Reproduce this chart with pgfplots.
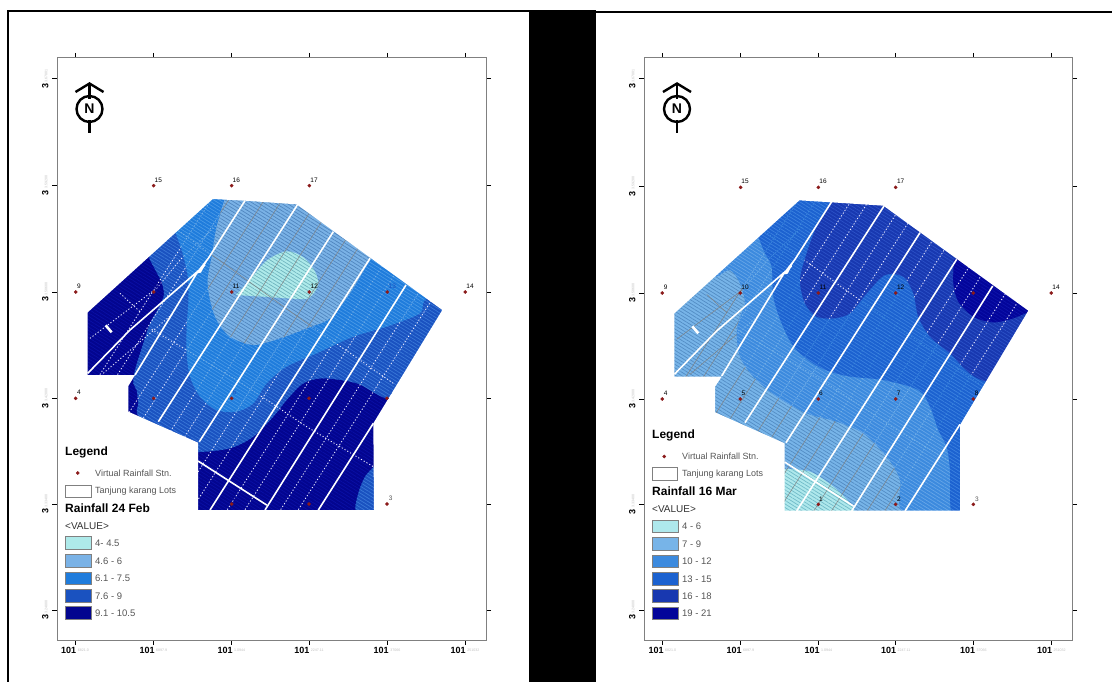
\documentclass[border=0pt]{standalone}
\usepackage{fontspec}
\setmainfont{Liberation Sans}
\usepackage{pgfplots}
\usepackage{pgfplotstable}
\pgfplotsset{compat=1.18}
\usetikzlibrary{patterns.meta}

\definecolor{aA}{HTML}{AEEAEA}\definecolor{ahA}{HTML}{6FB4BE}
\definecolor{aB}{HTML}{7AB2E6}\definecolor{ahB}{HTML}{4F85BF}
\definecolor{aC}{HTML}{1F7CDC}\definecolor{ahC}{HTML}{4A9AE8}
\definecolor{aD}{HTML}{1A52C0}\definecolor{ahD}{HTML}{3A78D8}
\definecolor{aE}{HTML}{03058F}\definecolor{ahE}{HTML}{0A10A6}
\definecolor{bA}{HTML}{AEE8EC}\definecolor{bhA}{HTML}{70BAC8}
\definecolor{bB}{HTML}{77B4E8}\definecolor{bhB}{HTML}{528CC4}
\definecolor{bC}{HTML}{3C8ADE}\definecolor{bhC}{HTML}{66A6E8}
\definecolor{bD}{HTML}{1C62D0}\definecolor{bhD}{HTML}{3C82E0}
\definecolor{bE}{HTML}{1838B0}\definecolor{bhE}{HTML}{2C52C8}
\definecolor{bF}{HTML}{03059A}\definecolor{bhF}{HTML}{0E14AC}
\definecolor{stn}{HTML}{8B1A1A}
\definecolor{framegrey}{HTML}{808080}
\definecolor{txtgrey}{HTML}{555555}

\pgfplotstableread{
x y
532 60
-85 1030
nan nan
585 60
-32 1030
nan nan
692 60
75 1030
nan nan
745 60
128 1030
nan nan
852 60
235 1030
nan nan
905 60
288 1030
nan nan
1012 60
395 1030
nan nan
1065 60
448 1030
nan nan
1172 60
555 1030
nan nan
1225 60
608 1030
nan nan
1332 60
715 1030
nan nan
1385 60
768 1030
nan nan
335 478
590 630
800 770
1000 890
nan nan
415 182
770 438
1060 640
nan nan
150 505
350 355
420 270
530 165
nan nan
190 610
400 430
nan nan
240 370
300 425
}\lottab

\pgfplotstableread{
x y
615 92
505 265
470 310
285 615
nan nan
495 285
270 480
143 610
nan nan
772 105
355 755
nan nan
880 185
478 815
nan nan
990 265
510 1020
nan nan
1098 345
675 1020
nan nan
1000 760
835 1020
nan nan
474 873
680 1005
}\maintab

\newcommand{\reg}[3]{%
  \addplot[fill=#1,draw=none,smooth,tension=.5] coordinates {#3};
  \addplot[draw=none,smooth,tension=.5,pattern={Lines[angle=-32,distance=3pt,line width=.7pt]},pattern color=#2] coordinates {#3};
}
\newcommand{\lots}[3]{%
  \addplot[#1,unbounded coords=jump] table[x expr=\thisrow{x}+#2,y expr=\thisrow{y}+#3] {\lottab};
}
% region, then its lot lines clipped to the same region
\newcommand{\regl}[6]{%
  \reg{#1}{#2}{#3}
  \begin{scope}
  \clip plot[smooth,tension=.5] coordinates {#3};
  \lots{#4}{#5}{#6}
  \end{scope}
}
\newcommand{\mainlines}[2]{%
  \addplot[white,line width=1.6pt,unbounded coords=jump] table[x expr=\thisrow{x}+#1,y expr=\thisrow{y}+#2] {\maintab};
}
\tikzset{whitedot/.style={white!92!blue,line width=.85pt,dash pattern=on 1.2pt off 2pt},
  paledot/.style={color=#1,line width=.75pt,dash pattern=on 1.2pt off 1.8pt},
  greyline/.style={color=#1,line width=.45pt}}

\newcommand{\xl}[1]{\textbf{101}\,\raisebox{2.5pt}{\fontsize{3.6}{4}\selectfont\color{lightgray}#1}}
\newcommand{\yl}[1]{{\fontsize{9}{10}\selectfont\textbf{3}}\,\raisebox{1pt}{\fontsize{3.6}{4}\selectfont\color{lightgray}#1}}
\pgfplotsset{mapaxis/.style={
  scale only axis,anchor=south west,y dir=reverse,axis on top,
  axis line style={framegrey,line width=1pt},
  tick style={black,line width=1pt},
  major tick length=5pt,tick align=outside,tick pos=both,
  xticklabel pos=bottom,yticklabel pos=left,
  tick label style={font=\fontsize{9}{10}\selectfont},
  yticklabel style={rotate=90,anchor=south,xshift=0pt},
  xticklabel style={yshift=1pt},
  yticklabels={{\yl{3.67801}},{\yl{3.59200}},{\yl{3.50600}},{\yl{3.42000}},{\yl{3.33400}},{\yl{3.24800}}},
  xticklabels={{\xl{6821.0}},{\xl{6897.9}},{\xl{1.0944}},{\xl{2247.11}},{\xl{37066}},{\xl{251032}}},
}}
\newcommand{\stlabel}[4][black]{\node[font=\fontsize{6.5}{7}\selectfont,text=#1,inner sep=0pt] at (axis cs:#2,#3) {#4};}
\newcommand{\northarrow}[1]{%
  \addplot[black,line width=2.4pt] coordinates {(#1-14,92) (#1,83.5) (#1+14,92)};
  \addplot[black,line width=2.4pt] coordinates {(#1,84) (#1,99) };
  \addplot[black,line width=2.4pt] coordinates {(#1,120) (#1,133.5)};
  \node[draw=black,line width=2.4pt,circle,minimum size=26pt,inner sep=0pt,font=\bfseries\fontsize{14}{15}\selectfont] at (axis cs:#1,109) {N};
}
\newcommand{\sw}[6]{%
  \addplot[fill=#4,draw=framegrey,line width=.8pt] coordinates {(#1,#2) (#1+26,#2) (#1+26,#3) (#1,#3)} -- cycle;
  \node[anchor=west,inner sep=0pt,text=txtgrey,font=\fontsize{9.5}{11}\selectfont] at (axis cs:#1+30,#5) {#6};
}

\begin{document}
\begin{tikzpicture}[x=1pt,y=1pt]
\useasboundingbox (0,0) rectangle (1112pt,682pt);

% ---------- left map
\begin{axis}[mapaxis,at={(57pt,42pt)},width=429pt,height=582pt,
  xmin=51,xmax=1338,ymin=-336,ymax=1410,
  xtick={105,340,574,807,1041,1275},
  ytick={-273,47,366,685,1002,1320}]
\reg{aE}{ahE}{(60,40)(1320,40)(1320,1050)(60,1050)}
\reg{aD}{ahD}{(330,270)(300,150)(310,60)(700,45)(1310,45)(1310,620)(1090,690)(1030,682)(950,640)(850,625)(790,640)(740,690)(700,740)(640,800)(570,835)(474,846)(440,835)(300,742)(295,700)(290,660)(280,640)(285,600)(310,520)(330,460)(355,415)(372,375)(365,335)}
\reg{aD}{ahD}{(1002,890)(975,920)(955,970)(948,1025)(1000,1045)(1040,1000)(1040,900)}
\lots{whitedot}{0}{0}
\regl{aC}{ahC}{(405,185)(425,240)(440,300)(445,340)(445,400)(440,470)(440,550)(450,620)(480,680)(530,720)(590,725)(640,700)(680,640)(740,590)(830,550)(940,500)(1040,470)(1140,430)(1160,385)(1300,300)(1000,60)(500,45)(420,100)}{paledot={aB}}{0}{0}
\regl{aB}{ahB}{(555,85)(530,170)(515,260)(503,330)(510,390)(530,450)(570,500)(640,525)(720,505)(800,475)(870,445)(930,370)(975,295)(995,262)(1020,190)(800,60)(580,50)}{greyline={gray}}{0}{0}
\regl{aA}{ahA}{(588,375)(625,335)(680,272)(740,244)(790,262)(825,305)(834,345)(805,385)(745,385)(670,380)}{greyline={gray}}{0}{0}
\mainlines{0}{0}
\addplot[white,line width=2.6pt] coordinates {(197,466) (215,487)};
\addplot[fill=white,draw=none] coordinates {(505,265)(470,310)(483,308)};
\addplot[fill=white,draw=none] coordinates
 {(-100,-400)(1500,-400)(1500,1500)(-100,1500)(-100,427)(143,427)(143,615)(285,615)(265,648)(265,725)(474,818)(474,1020)(1002,1020)(1000,760)(1207,420)(770,103)(615,92)(518,87)(143,427)(-100,427)};
\addplot[only marks,mark=*,mark size=1.6pt,color=stn] coordinates
 {(341,47)(575,47)(808,47)(107,366)(341,366)(575,366)(808,366)(1042,366)(1276,366)(107,685)(341,685)(575,685)(807,685)(1041,685)(575,1002)(807,1002)(1041,1002)};
\stlabel{355}{30}{15}\stlabel{589}{30}{16}\stlabel{822}{30}{17}
\stlabel{117}{349}{9}\stlabel[aE]{355}{349}{10}\stlabel{588}{349}{11}\stlabel{823}{349}{12}\stlabel[aD]{1057}{349}{13}\stlabel{1290}{349}{14}
\stlabel{117}{667}{4}\stlabel[aD]{349}{667}{5}\stlabel[aD]{584}{667}{6}\stlabel[aE]{817}{667}{7}\stlabel[aD]{1051}{667}{8}
\stlabel[aE]{584}{985}{1}\stlabel[aE]{817}{985}{2}\stlabel[txtgrey]{1052}{985}{3}
\end{axis}

% ---------- right map
\begin{axis}[mapaxis,at={(644pt,42pt)},width=428pt,height=582pt,
  xmin=42,xmax=1326,ymin=-336,ymax=1410,
  xtick={97,331,565,797,1030,1264},
  ytick={-273,50,369,687,1003,1320}]
\reg{bB}{bhB}{(50,40)(1320,40)(1320,1050)(50,1050)}
\lots{greyline={gray}}{-10}{3}
\regl{bA}{bhA}{(464,897)(540,905)(610,950)(660,1000)(670,1030)(600,1045)(420,1045)(420,900)}{greyline={gray}}{-10}{3}
\regl{bC}{bhC}{(225,322)(260,320)(300,300)(330,340)(345,400)(330,440)(320,490)(330,560)(370,620)(440,680)(530,730)(620,755)(700,790)(770,860)(810,930)(822,1030)(1020,1045)(1310,1045)(1310,50)(500,45)(240,250)}{paledot={bB}}{-10}{3}
\regl{bD}{bhD}{(385,200)(405,250)(425,290)(430,380)(455,460)(495,535)(565,590)(650,618)(760,630)(865,660)(900,710)(925,780)(950,830)(960,900)(965,1030)(1020,1045)(1310,1045)(1310,50)(460,50)(380,170)}{paledot={bC}}{-10}{3}
\regl{bE}{bhE}{(605,90)(560,170)(530,250)(510,330)(525,400)(560,440)(610,445)(660,430)(710,370)(765,315)(820,320)(850,370)(865,440)(900,500)(960,550)(1060,632)(1310,650)(1310,50)(620,50)}{whitedot}{-10}{3}
\regl{bF}{bhF}{(972,270)(970,340)(985,395)(1030,440)(1090,457)(1150,445)(1200,425)(1300,400)(1250,250)(1050,230)}{whitedot}{-10}{3}
\mainlines{-10}{3}
\addplot[white,line width=2.6pt] coordinates {(187,469) (205,490)};
\addplot[fill=white,draw=none] coordinates {(495,268)(460,313)(473,311)};
\addplot[fill=white,draw=none] coordinates
 {(-100,-400)(1500,-400)(1500,1500)(-100,1500)(-100,430)(133,430)(133,620)(275,620)(255,650)(255,727)(464,820)(464,1022)(990,1022)(990,765)(1195,422)(760,107)(605,97)(508,91)(133,430)(-100,430)};
\addplot[only marks,mark=*,mark size=1.6pt,color=stn] coordinates
 {(332,52)(565,52)(797,52)(97,369)(331,369)(565,369)(797,369)(1030,369)(1264,369)(97,687)(331,687)(565,687)(797,687)(1030,687)(565,1003)(797,1003)(1030,1003)};
\stlabel{345}{34}{15}\stlabel{579}{34}{16}\stlabel{812}{34}{17}
\stlabel{107}{352}{9}\stlabel{345}{352}{10}\stlabel{579}{352}{11}\stlabel{812}{352}{12}\stlabel[aE]{1044}{352}{13}\stlabel{1278}{352}{14}
\stlabel{107}{669}{4}\stlabel{340}{669}{5}\stlabel{573}{669}{6}\stlabel{806}{669}{7}\stlabel{1040}{669}{8}
\stlabel{573}{987}{1}\stlabel{807}{987}{2}\stlabel[txtgrey]{1041}{987}{3}
\end{axis}

% ---------- page furniture and legends, in reference pixels
\begin{axis}[scale only axis,anchor=south west,at={(0pt,0pt)},width=1112pt,height=682pt,
  xmin=0,xmax=1112,ymin=0,ymax=682,y dir=reverse,hide axis]
\addplot[fill=black,draw=none] coordinates {(529,10)(596,10)(596,682)(529,682)} -- cycle;
\addplot[black,line width=2.4pt] coordinates {(8,682)(8,11)(530,11)};
\addplot[black,line width=2pt] coordinates {(596,12)(1112,12)};
\northarrow{89.5}
\northarrow{677}

% left legend
\node[anchor=west,inner sep=0pt,font=\bfseries\fontsize{12}{14}\selectfont] at (axis cs:65,452) {Legend};
\addplot[only marks,mark=*,mark size=1.6pt,color=stn] coordinates {(77.7,473)};
\node[anchor=west,inner sep=0pt,text=txtgrey,font=\fontsize{9}{11}\selectfont] at (axis cs:95,473) {Virtual Rainfall Stn.};
\addplot[fill=white,draw=framegrey,line width=.9pt] coordinates {(65,485)(91,485)(91,497.7)(65,497.7)} -- cycle;
\node[anchor=west,inner sep=0pt,text=txtgrey,font=\fontsize{9}{11}\selectfont] at (axis cs:95,491) {Tanjung karang Lots};
\node[anchor=west,inner sep=0pt,font=\bfseries\fontsize{12}{14}\selectfont] at (axis cs:65,508) {Rainfall 24 Feb};
\node[anchor=west,inner sep=0pt,text=black!80,font=\fontsize{10}{12}\selectfont] at (axis cs:65,526) {<VALUE>};
\sw{65}{536.7}{549.3}{aA}{543}{4- 4.5}
\sw{65}{554.7}{567.3}{aB}{561}{4.6 - 6}
\sw{65}{572}{584.7}{aC}{578}{6.1 - 7.5}
\sw{65}{589.3}{602}{aD}{596}{7.6 - 9}
\sw{65}{606.7}{619.3}{aE}{613}{9.1 - 10.5}

% right legend
\node[anchor=west,inner sep=0pt,font=\bfseries\fontsize{12}{14}\selectfont] at (axis cs:652,435) {Legend};
\addplot[only marks,mark=*,mark size=1.6pt,color=stn] coordinates {(664.3,456.5)};
\node[anchor=west,inner sep=0pt,text=txtgrey,font=\fontsize{9}{11}\selectfont] at (axis cs:682,456) {Virtual Rainfall Stn.};
\addplot[fill=white,draw=framegrey,line width=.9pt] coordinates {(652.3,467.3)(677.7,467.3)(677.7,480.7)(652.3,480.7)} -- cycle;
\node[anchor=west,inner sep=0pt,text=txtgrey,font=\fontsize{9}{11}\selectfont] at (axis cs:682,474) {Tanjung karang Lots};
\node[anchor=west,inner sep=0pt,font=\bfseries\fontsize{12}{14}\selectfont] at (axis cs:652,491) {Rainfall 16 Mar};
\node[anchor=west,inner sep=0pt,text=black!80,font=\fontsize{10}{12}\selectfont] at (axis cs:652,509) {<VALUE>};
\sw{652}{520}{532.7}{bA}{526}{4 - 6}
\sw{652}{537.3}{550}{bB}{544}{7 - 9}
\sw{652}{555}{567.7}{bC}{561}{10 - 12}
\sw{652}{572.3}{585}{bD}{579}{13 - 15}
\sw{652}{589.7}{602.3}{bE}{596}{16 - 18}
\sw{652}{607}{619.7}{bF}{613}{19 - 21}
\end{axis}
\end{tikzpicture}
\end{document}
